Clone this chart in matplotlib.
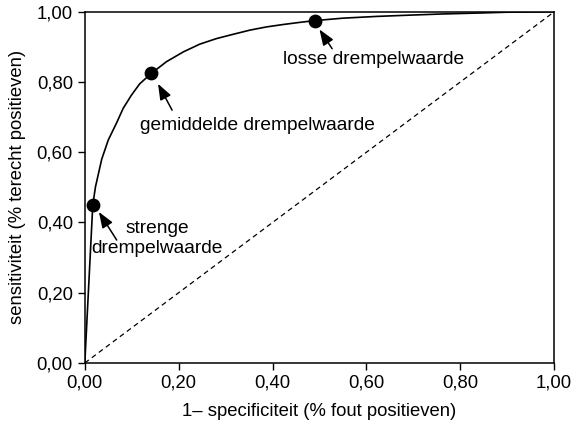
import matplotlib
matplotlib.use('Agg')
import matplotlib.pyplot as plt
import numpy as np

plt.rcParams['font.family'] = ['Liberation Sans', 'DejaVu Sans']

# ROC curve
fpr = [0, 0.0064, 0.017, 0.0228, 0.036, 0.050, 0.0675, 0.0817, 0.0995, 0.117,
       0.142, 0.174, 0.21, 0.245, 0.281, 0.316, 0.352, 0.387, 0.423, 0.458,
       0.49, 0.55, 0.622, 0.70, 0.763, 0.85, 0.9, 1.0]
tpr = [0, 0.17, 0.45, 0.502, 0.58, 0.635, 0.683, 0.725, 0.763, 0.795,
       0.825, 0.858, 0.886, 0.908, 0.924, 0.936, 0.948, 0.957, 0.964, 0.970,
       0.975, 0.982, 0.987, 0.991, 0.994, 0.997, 0.999, 1.0]

# threshold points
pt_fpr = [0.017, 0.142, 0.49]
pt_tpr = [0.45, 0.825, 0.975]

ticks = [0, 0.2, 0.4, 0.6, 0.8, 1.0]
tick_labels = ['0,00', '0,20', '0,40', '0,60', '0,80', '1,00']

fs = 13.3
fs_note = 13.8

fig = plt.figure(figsize=(5.73, 4.23), dpi=100)
ax = fig.add_axes([0.148, 0.142, 0.819, 0.830])

ax.plot(fpr, tpr, color='black', lw=1.2, solid_joinstyle='round')
ax.plot([0, 1], [0, 1], color='black', lw=0.9, ls=(0, (4, 3)))
ax.scatter(pt_fpr, pt_tpr, s=80, color='black', zorder=3)

arrow = dict(arrowstyle='-|>,head_length=0.8,head_width=0.3', color='black',
             lw=1.1, mutation_scale=12, shrinkA=0, shrinkB=0)
ax.annotate('', xy=(0.030, 0.43), xytext=(0.068, 0.35), arrowprops=arrow)
ax.text(0.154, 0.382, 'strenge', ha='center', va='center', fontsize=fs_note)
ax.text(0.154, 0.325, 'drempelwaarde', ha='center', va='center', fontsize=fs_note)

ax.annotate('', xy=(0.156, 0.795), xytext=(0.186, 0.72), arrowprops=arrow)
ax.text(0.117, 0.675, 'gemiddelde drempelwaarde', ha='left', va='center', fontsize=fs_note)

ax.annotate('', xy=(0.50, 0.950), xytext=(0.527, 0.895), arrowprops=arrow)
ax.text(0.422, 0.863, 'losse drempelwaarde', ha='left', va='center', fontsize=fs_note)

ax.set_xlim(0, 1)
ax.set_ylim(0, 1)
ax.set_xticks(ticks)
ax.set_xticklabels(tick_labels)
ax.set_yticks(ticks)
ax.set_yticklabels(tick_labels)
ax.tick_params(direction='out', length=5, width=1, labelsize=fs)
for s in ax.spines.values():
    s.set_linewidth(1.1)

ax.set_xlabel('1\u2013 specificiteit (% fout positieven)', fontsize=fs, labelpad=8)
ax.set_ylabel('sensitiviteit (% terecht positieven)', fontsize=fs, labelpad=8)

fig.savefig('out.png', dpi=100)
